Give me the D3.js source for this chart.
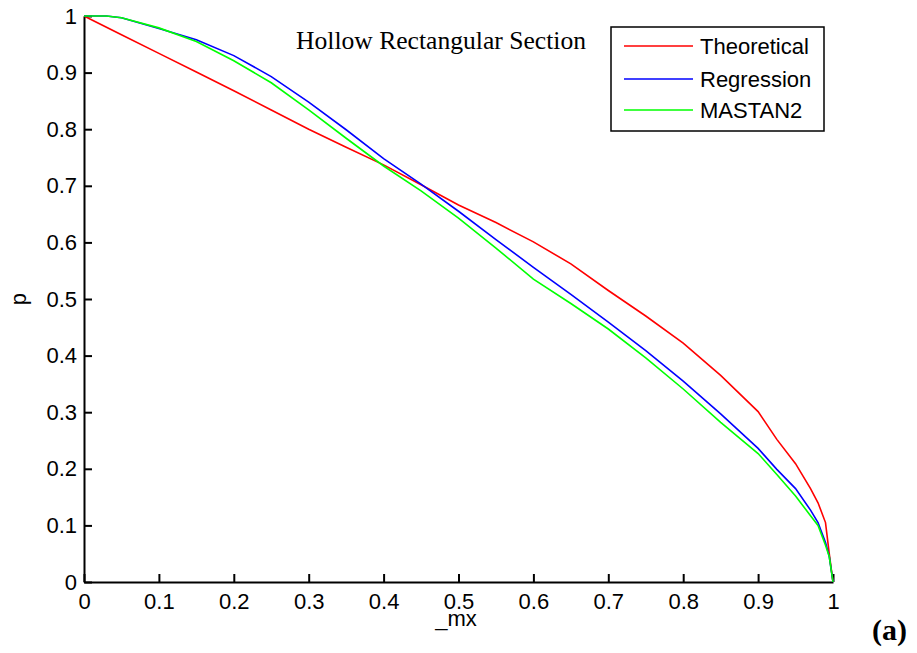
<!DOCTYPE html>
<html>
<head>
<meta charset="utf-8">
<script src="https://cdn.jsdelivr.net/npm/d3@7"></script>
<style>
  body { margin: 0; background: #fff; }
  svg { display: block; }
</style>
</head>
<body>
<div id="chart"></div>
<script>
// data
var mx = [0, 0.03, 0.05, 0.1, 0.15, 0.2, 0.25, 0.3, 0.35, 0.4, 0.45, 0.5, 0.55, 0.6, 0.65,
  0.7, 0.75, 0.8, 0.85, 0.9, 0.925, 0.95, 0.97, 0.98, 0.99, 0.995, 1];

var theoretical = [1, 0.980, 0.967, 0.934, 0.901, 0.868, 0.834, 0.800, 0.768, 0.737, 0.702, 0.666,
  0.635, 0.601, 0.562, 0.515, 0.470, 0.422, 0.365, 0.301, 0.252, 0.209, 0.165, 0.140, 0.105, 0.050, 0];
var regression = [1, 1, 0.997, 0.978, 0.958, 0.930, 0.893, 0.848, 0.799, 0.748, 0.703, 0.655,
  0.605, 0.556, 0.508, 0.459, 0.409, 0.355, 0.297, 0.236, 0.199, 0.165, 0.127, 0.105, 0.070, 0.045, 0];
var mastan2 = [1, 1, 0.997, 0.979, 0.955, 0.921, 0.882, 0.834, 0.784, 0.735, 0.691, 0.643,
  0.590, 0.535, 0.492, 0.447, 0.396, 0.341, 0.282, 0.227, 0.190, 0.152, 0.117, 0.100, 0.065, 0.045, 0];

var seriesNames = ["Theoretical", "Regression", "MASTAN2"];
var seriesColors = ["#ff0000", "#0000ff", "#00ff00"];
var tickValues = [0, 0.1, 0.2, 0.3, 0.4, 0.5, 0.6, 0.7, 0.8, 0.9, 1];

var w = 917, h = 653;
var margin = { top: 16, right: 84, bottom: 71, left: 84 };
var width = w - margin.left - margin.right;
var height = h - margin.top - margin.bottom;

var svg = d3.select("#chart").append("svg")
  .attr("width", w)
  .attr("height", h);

var chartGroup = svg.append("g")
  .attr("transform", `translate(${margin.left}, ${margin.top})`);

var xScale = d3.scaleLinear().domain([0, 1]).range([0, width]);
var yScale = d3.scaleLinear().domain([0, 1]).range([height, 0]);

// axes, ticks pointing inward like matlab
var fmt = d => d === 0 || d === 1 ? String(d) : d3.format(".1f")(d);

var bottomAxis = d3.axisBottom(xScale).tickValues(tickValues).tickFormat(fmt)
  .tickSizeInner(-8).tickSizeOuter(0).tickPadding(11);
var leftAxis = d3.axisLeft(yScale).tickValues(tickValues).tickFormat(fmt)
  .tickSizeInner(-8).tickSizeOuter(0).tickPadding(7);

var xAxis = chartGroup.append("g")
  .attr("transform", `translate(0, ${height})`)
  .call(bottomAxis);
var yAxis = chartGroup.append("g")
  .call(leftAxis);

[xAxis, yAxis].forEach(function(ax) {
  ax.select(".domain").attr("stroke", "#000").attr("stroke-width", 2);
  ax.selectAll(".tick line").attr("stroke", "#000").attr("stroke-width", 2);
  ax.selectAll(".tick text")
    .attr("fill", "#000")
    .style("font-family", "Arial, 'Liberation Sans', sans-serif")
    .style("font-size", "22px");
});

// lines
var allSeries = [theoretical, regression, mastan2];
var line = d3.line()
  .x((d, i) => xScale(mx[i]))
  .y(d => yScale(d));

allSeries.forEach(function(values, k) {
  chartGroup.append("path")
    .datum(values)
    .attr("fill", "none")
    .attr("stroke", seriesColors[k])
    .attr("stroke-width", 1.6)
    .attr("d", line);
});

// title inside the plot
svg.append("text")
  .attr("x", 296)
  .attr("y", 49)
  .style("font-family", "'Times New Roman', 'Liberation Serif', serif")
  .style("font-size", "25.6px")
  .text("Hollow Rectangular Section");

// legend
var legend = svg.append("g");
legend.append("rect")
  .attr("x", 611).attr("y", 27)
  .attr("width", 213).attr("height", 104)
  .attr("fill", "#fff")
  .attr("stroke", "#000")
  .attr("stroke-width", 1.5);

var legendY = [46, 79, 110];
seriesNames.forEach(function(name, k) {
  legend.append("line")
    .attr("x1", 624).attr("x2", 693)
    .attr("y1", legendY[k]).attr("y2", legendY[k])
    .attr("stroke", seriesColors[k])
    .attr("stroke-width", 1.6);
  legend.append("text")
    .attr("x", 700)
    .attr("y", legendY[k] + 8)
    .style("font-family", "Arial, 'Liberation Sans', sans-serif")
    .style("font-size", "22px")
    .text(name);
});

// axis labels
svg.append("text")
  .attr("x", 456)
  .attr("y", 626)
  .attr("text-anchor", "middle")
  .style("font-family", "Arial, 'Liberation Sans', sans-serif")
  .style("font-size", "22px")
  .text("_mx");

svg.append("text")
  .attr("transform", `translate(26, ${margin.top + height / 2}) rotate(-90)`)
  .attr("text-anchor", "middle")
  .style("font-family", "Arial, 'Liberation Sans', sans-serif")
  .style("font-size", "22px")
  .text("p");

svg.append("text")
  .attr("x", 872)
  .attr("y", 640)
  .style("font-family", "'Times New Roman', 'Liberation Serif', serif")
  .style("font-size", "30px")
  .style("font-weight", "bold")
  .text("(a)");
</script>
</body>
</html>
